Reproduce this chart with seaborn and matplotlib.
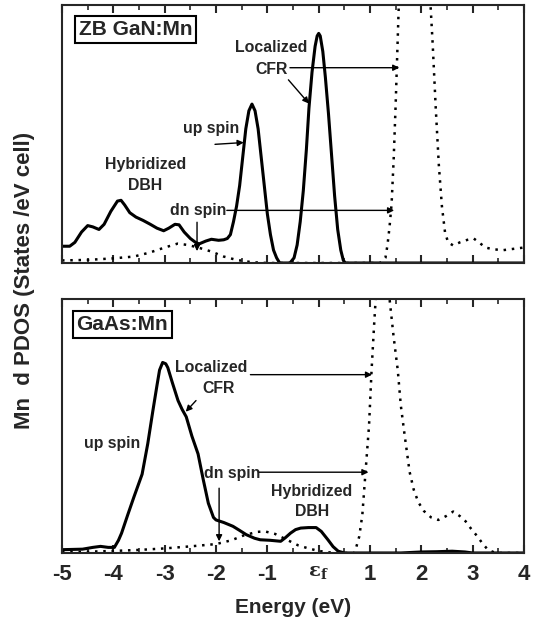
import numpy as np
import pandas as pd
import matplotlib
matplotlib.use("Agg")
import matplotlib.pyplot as plt
import seaborn as sns

# ---------------- data ----------------
gan_up_x = [-5.0, -4.85, -4.75, -4.62, -4.50, -4.40, -4.28, -4.18, -4.05, -3.92, -3.85, -3.78,
            -3.68, -3.56, -3.42, -3.28, -3.15, -3.02, -2.92, -2.80, -2.72, -2.62, -2.50, -2.40,
            -2.33, -2.20, -2.09, -1.95, -1.85, -1.78, -1.72, -1.66, -1.60, -1.54, -1.48, -1.42,
            -1.36, -1.30, -1.24, -1.18, -1.12, -1.06, -1.00, -0.94, -0.88, -0.82, -0.76, -0.56,
            -0.48, -0.42, -0.36, -0.30, -0.24, -0.19, -0.13, -0.07, -0.03, 0.0, 0.03, 0.08,
            0.13, 0.19, 0.25, 0.31, 0.37, 0.43, 0.48, 0.52, 4.0]
gan_up_y = [0.065, 0.065, 0.08, 0.12, 0.145, 0.14, 0.13, 0.15, 0.20, 0.24, 0.243, 0.225,
            0.195, 0.178, 0.165, 0.15, 0.135, 0.125, 0.135, 0.15, 0.148, 0.12, 0.095, 0.08,
            0.074, 0.085, 0.092, 0.088, 0.09, 0.095, 0.11, 0.16, 0.22, 0.30, 0.41, 0.52,
            0.59, 0.616, 0.59, 0.52, 0.41, 0.30, 0.19, 0.11, 0.05, 0.02, 0.0, 0.0,
            0.02, 0.07, 0.16, 0.28, 0.44, 0.60, 0.74, 0.84, 0.88, 0.89, 0.88, 0.82,
            0.72, 0.58, 0.42, 0.26, 0.13, 0.05, 0.01, 0.0, 0.0]

gan_dn_x = [-5.0, -4.5, -4.0, -3.6, -3.3, -3.0, -2.75, -2.55, -2.35, -2.1, -1.85, -1.6, -1.3,
            -1.0, 1.2, 1.30, 1.34, 1.38, 1.42, 1.46, 1.50, 1.56, 1.62, 1.75, 1.9, 2.05, 2.15,
            2.22, 2.28, 2.34, 2.40, 2.46, 2.52, 2.62, 2.75, 2.9, 3.02, 3.12, 3.25, 3.4, 3.6,
            3.8, 4.0]
gan_dn_y = [0.01, 0.012, 0.018, 0.025, 0.04, 0.06, 0.075, 0.07, 0.06, 0.045, 0.025, 0.012, 0.003,
            0.0, 0.0, 0.02, 0.07, 0.14, 0.23, 0.40, 0.62, 1.0, 1.3, 1.6, 1.7, 1.45, 1.1,
            0.85, 0.6, 0.38, 0.22, 0.12, 0.08, 0.068, 0.08, 0.09, 0.095, 0.08, 0.06, 0.053, 0.05,
            0.055, 0.06]

gaas_up_x = [-5.0, -4.6, -4.4, -4.25, -4.1, -3.98, -3.9, -3.84, -3.72, -3.6, -3.44, -3.33,
             -3.23, -3.15, -3.1, -3.04, -2.98, -2.94, -2.85, -2.74, -2.66, -2.58, -2.47, -2.35,
             -2.25, -2.15, -2.05, -2.0, -1.85, -1.67, -1.55, -1.41, -1.25, -1.14, -0.95, -0.74,
             -0.65, -0.55, -0.45, -0.35, -0.2, -0.05, 0.05, 0.18, 0.28, 0.38, 0.5, 1.6, 2.0,
             2.3, 2.6, 2.85, 3.0, 4.0]
gaas_up_y = [0.013, 0.015, 0.022, 0.026, 0.022, 0.022, 0.05, 0.078, 0.15, 0.22, 0.31, 0.43,
             0.56, 0.66, 0.72, 0.75, 0.745, 0.73, 0.67, 0.60, 0.565, 0.536, 0.46, 0.39,
             0.29, 0.196, 0.14, 0.13, 0.12, 0.105, 0.09, 0.072, 0.058, 0.052, 0.05, 0.046,
             0.06, 0.078, 0.092, 0.098, 0.10, 0.10, 0.085, 0.052, 0.025, 0.007, 0.0, 0.0, 0.004,
             0.005, 0.007, 0.004, 0.0, 0.0]

gaas_dn_x = [-5.0, -4.5, -4.0, -3.5, -3.0, -2.5, -2.0, -1.7, -1.45, -1.2, -1.05, -0.85, -0.6,
             -0.4, -0.2, 0.0, 0.3, 0.7, 0.79, 0.85, 0.92, 0.98, 1.03, 1.08, 1.11, 1.2, 1.3,
             1.38, 1.46, 1.54, 1.6, 1.67, 1.77, 1.85, 1.94, 2.05, 2.19, 2.33, 2.48, 2.62, 2.75,
             2.86, 2.97, 3.08, 3.2, 3.3, 3.45, 4.0]
gaas_dn_y = [0.003, 0.005, 0.008, 0.012, 0.018, 0.026, 0.035, 0.05, 0.07, 0.083, 0.085, 0.075, 0.05,
             0.03, 0.018, 0.008, 0.0, 0.0, 0.065, 0.15, 0.34, 0.5, 0.72, 0.9, 1.0, 1.3, 1.4,
             1.0, 0.85, 0.72, 0.58, 0.47, 0.32, 0.25, 0.2, 0.165, 0.14, 0.13, 0.145, 0.163, 0.145,
             0.125, 0.095, 0.068, 0.035, 0.012, 0.0, 0.0]

tick_values = [-5, -4, -3, -2, -1, 0, 1, 2, 3, 4]
tick_labels = ["-5", "-4", "-3", "-2", "-1", r"$\mathbf{\varepsilon}_\mathbf{f}$", "1", "2", "3", "4"]

# ---------------- style ----------------
sns.set_style("ticks")
plt.rcParams["font.family"] = ["Liberation Sans", "DejaVu Sans"]
plt.rcParams["font.weight"] = "bold"
plt.rcParams["mathtext.fontset"] = "dejavuserif"
plt.rcParams["axes.linewidth"] = 1.5

fig = plt.figure(figsize=(5.36, 6.2), dpi=100)
ax1 = fig.add_axes([0.1157, 0.5758, 0.862, 0.4161])
ax2 = fig.add_axes([0.1157, 0.1081, 0.862, 0.4097])

dot_style = (0, (1, 2.3))


def draw(ax, ux, uy, dx, dy):
    du = pd.DataFrame({"E": ux, "DOS": uy})
    dd = pd.DataFrame({"E": dx, "DOS": dy})
    sns.lineplot(data=dd, x="E", y="DOS", ax=ax, color="black", linewidth=1.8,
                 linestyle=dot_style, estimator=None, sort=False)
    sns.lineplot(data=du, x="E", y="DOS", ax=ax, color="black", linewidth=2.2,
                 estimator=None, sort=False)
    ax.set_xlim(-5, 4)
    ax.set_ylim(0, 1)
    ax.set_yticks([])
    ax.set_xticks(tick_values)
    ax.set_xticks(np.arange(-4.5, 4, 1.0), minor=True)
    ax.tick_params(axis="x", which="major", direction="in", length=6, width=1.5,
                   top=True, bottom=True)
    ax.tick_params(axis="x", which="minor", direction="in", length=3.5, width=1.2,
                   top=True, bottom=True)
    ax.set_xlabel("")
    ax.set_ylabel("")
    for s in ax.spines.values():
        s.set_visible(True)
        s.set_linewidth(1.5)


draw(ax1, gan_up_x, gan_up_y, gan_dn_x, gan_dn_y)
draw(ax2, gaas_up_x, gaas_up_y, gaas_dn_x, gaas_dn_y)

ax1.set_xticklabels([])
ax2.set_xticklabels(tick_labels, fontsize=16, fontweight="bold")
ax2.get_xticklabels()[5].set_fontsize(14)
ax2.tick_params(axis="x", which="major", pad=8)
ax2.set_xlabel("Energy (eV)", fontsize=15, fontweight="bold", labelpad=9)

fig.text(0.045, 0.548, "Mn  d PDOS (States /eV cell)", rotation=90, ha="center",
         va="center", fontsize=16, fontweight="bold")

box = dict(boxstyle="square,pad=0.18", facecolor="white", edgecolor="black", linewidth=1.5)
ax1.text(-3.56, 0.905, "ZB GaN:Mn", ha="center", va="center", fontsize=15,
         fontweight="bold", bbox=box)
ax2.text(-3.83, 0.90, "GaAs:Mn", ha="center", va="center", fontsize=15,
         fontweight="bold", bbox=box)

tfs = 11.4
arr = dict(arrowstyle="-|>", color="black", lw=1.0, mutation_scale=9,
           shrinkA=0, shrinkB=0)

# top panel annotations
ax1.text(-0.92, 0.836, "Localized", ha="center", va="center", fontsize=tfs, fontweight="bold")
ax1.text(-0.92, 0.752, "CFR", ha="center", va="center", fontsize=tfs, fontweight="bold")
ax1.annotate("", xy=(1.57, 0.757), xytext=(-0.56, 0.757), arrowprops=arr)
ax1.annotate("", xy=(-0.19, 0.618), xytext=(-0.59, 0.71), arrowprops=arr)
ax1.text(-2.09, 0.52, "up spin", ha="center", va="center", fontsize=tfs, fontweight="bold")
ax1.annotate("", xy=(-1.46, 0.467), xytext=(-2.02, 0.46), arrowprops=arr)
ax1.text(-3.38, 0.38, "Hybridized", ha="center", va="center", fontsize=tfs, fontweight="bold")
ax1.text(-3.38, 0.30, "DBH", ha="center", va="center", fontsize=tfs, fontweight="bold")
ax1.text(-2.35, 0.204, "dn spin", ha="center", va="center", fontsize=tfs, fontweight="bold")
ax1.annotate("", xy=(1.47, 0.204), xytext=(-1.79, 0.204), arrowprops=arr)
ax1.annotate("", xy=(-2.37, 0.046), xytext=(-2.37, 0.158), arrowprops=arr)

# bottom panel annotations
ax2.text(-2.09, 0.732, "Localized", ha="center", va="center", fontsize=tfs, fontweight="bold")
ax2.text(-1.96, 0.647, "CFR", ha="center", va="center", fontsize=tfs, fontweight="bold")
ax2.annotate("", xy=(1.04, 0.702), xytext=(-1.33, 0.702), arrowprops=arr)
ax2.annotate("", xy=(-2.59, 0.556), xytext=(-2.39, 0.60), arrowprops=arr)
ax2.text(-4.02, 0.431, "up spin", ha="center", va="center", fontsize=tfs, fontweight="bold")
ax2.text(-1.69, 0.311, "dn spin", ha="center", va="center", fontsize=tfs, fontweight="bold")
ax2.annotate("", xy=(0.97, 0.318), xytext=(-1.16, 0.318), arrowprops=arr)
ax2.annotate("", xy=(-1.94, 0.046), xytext=(-1.94, 0.255), arrowprops=arr)
ax2.text(-0.13, 0.242, "Hybridized", ha="center", va="center", fontsize=tfs, fontweight="bold")
ax2.text(-0.13, 0.163, "DBH", ha="center", va="center", fontsize=tfs, fontweight="bold")

fig.savefig("out.png", dpi=100)
